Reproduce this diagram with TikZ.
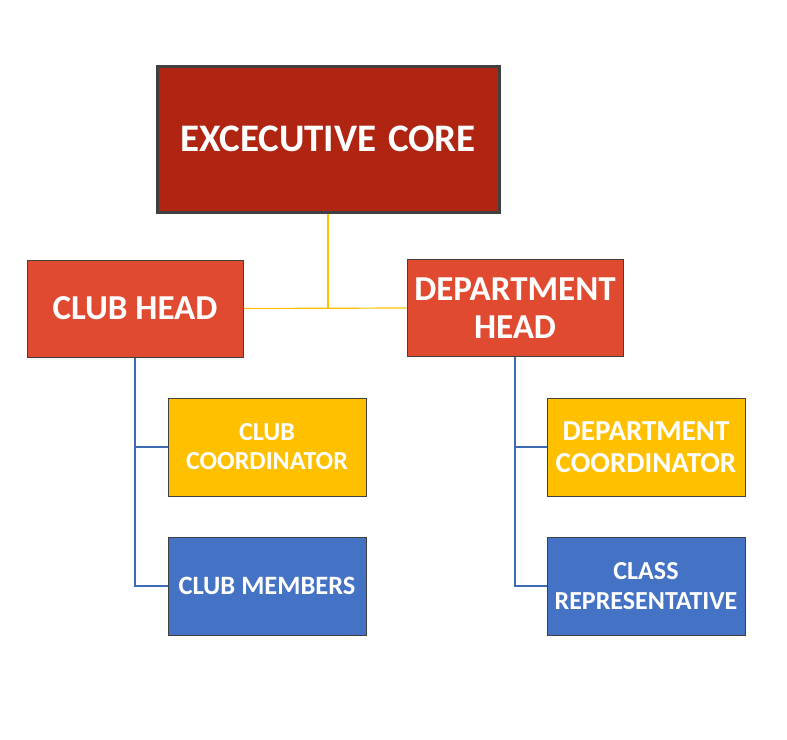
\documentclass[tikz,border=0pt]{standalone}
\usepackage{fontspec}
\setmainfont{Carlito}
\definecolor{execfill}{HTML}{AF2511}
\definecolor{headfill}{HTML}{E04A30}
\definecolor{yelfill}{HTML}{FFC000}
\definecolor{bluefill}{HTML}{4472C4}
\definecolor{edge}{HTML}{404040}
\definecolor{bluelink}{HTML}{3E69B3}
\tikzset{
  box/.style={draw=edge, line width=1pt, inner sep=0pt, align=center, text=white},
  execbox/.style={box, fill=execfill, line width=3pt, minimum width=342pt, minimum height=146pt},
  headbox/.style={box, fill=headfill, minimum width=216pt, minimum height=97pt},
  yelbox/.style={box, fill=yelfill, minimum width=198pt, minimum height=98pt},
  bluebox/.style={box, fill=bluefill, minimum width=198pt, minimum height=98pt},
  yellink/.style={draw=yelfill, line width=1.2pt},
  bluelinkst/.style={draw=bluelink, line width=1.2pt},
}
\begin{document}
\begin{tikzpicture}[x=1pt,y=-1pt]
\useasboundingbox (0,0) rectangle (787,739);
\node[execbox, font=\fontsize{39}{41}\selectfont\bfseries] (exec) at (328,139) {EXCECUTIVE\hspace{0.3em}CORE};
\node[headbox, font=\fontsize{35}{38}\selectfont\bfseries] (club) at (135,308.5) {CLUB HEAD};
\node[headbox, font=\fontsize{35}{38}\selectfont\bfseries] (dept) at (515,308) {DEPARTMENT\\HEAD};
\node[yelbox, font=\fontsize{26}{29}\selectfont\bfseries] (cc) at (267,447) {CLUB\\COORDINATOR};
\node[bluebox, font=\fontsize{26.5}{30}\selectfont\bfseries] (cm) at (267,586) {CLUB MEMBERS};
\node[yelbox, font=\fontsize{29}{32}\selectfont\bfseries] (dc) at (646,447) {DEPARTMENT\\COORDINATOR};
\node[bluebox, font=\fontsize{26}{30}\selectfont\bfseries] (cr) at (646,586) {CLASS\\REPRESENTATIVE};
\draw[yellink] (club.east) -- (dept.west);
\draw[yellink] (exec.south) -- (exec.south |- club.east);
\draw[bluelinkst] (club.south) |- (cc.west);
\draw[bluelinkst] (club.south) |- (cm.west);
\draw[bluelinkst] (dept.south) |- (dc.west);
\draw[bluelinkst] (dept.south) |- (cr.west);
\end{tikzpicture}
\end{document}
